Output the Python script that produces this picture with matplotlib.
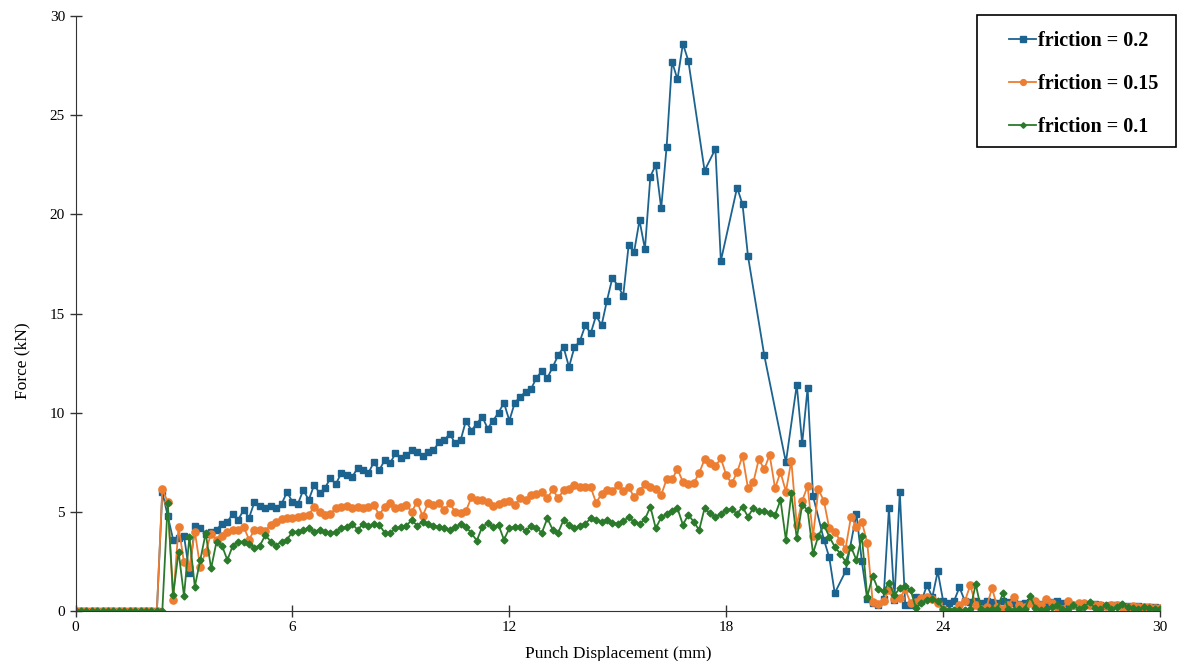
import numpy as np
import matplotlib
matplotlib.use("Agg")
import matplotlib.pyplot as plt
from matplotlib.patches import Rectangle

plt.rcParams['font.family'] = ['Liberation Serif', 'DejaVu Serif']

# sample grid of the simulation output (mm)
x_mm = np.round(np.arange(201) * 0.15, 2)

# force (kN); None = no sample stored at that step
f_02 = [0]*16 + [
    6.0, 4.8, 3.6, 3.7, 3.8, 1.9, 4.3, 4.2, 3.9, 4.0,
    4.1, 4.4, 4.5, 4.9, 4.6, 5.1, 4.7, 5.5, 5.3, 5.2,
    5.3, 5.2, 5.4, 6.0, 5.5, 5.4, 6.1, 5.6, 6.35, 5.95,
    6.2, 6.7, 6.4, 6.95, 6.85, 6.75, 7.2, 7.1, 6.95, 7.5,
    7.1, 7.6, 7.45, 7.95, 7.7, 7.85, 8.1, 8.0, 7.8, 8.0,
    8.1, 8.5, 8.6, 8.95, 8.45, 8.6, 9.6, 9.1, 9.45, 9.8,
    9.2, 9.6, 10.0, 10.5, 9.6, 10.5, 10.8, 11.05, 11.2, 11.75,
    12.1, 11.75, 12.3, 12.9, 13.3, 12.3, 13.3, 13.6, 14.4, 14.0,
    14.9, 14.4, 15.65, 16.8, 16.4, 15.9, 18.45, 18.1, 19.7, 18.25,
    21.9, 22.5, 20.3, 23.4, 27.7, 26.8, 28.6, 27.75, None, None,
    22.2, None, 23.3, 17.65, None, None, 21.35, 20.5, 17.9, None,
    None, 12.9, None, None, None, 7.5, None, 11.4, 8.45, 11.25,
    5.8, None, 3.6, 2.7, 0.9, None, 2.0, None, 4.9, 2.5,
    0.6, 0.4, 0.3, 0.6, 5.2, 0.55, 6.0, 0.3, 0.3, 0.7,
    0.5, 1.3, 0.7, 2.0, 0.5, 0.4, 0.5, 1.2, 0.5, 0.45,
    0.5, 0.4, 0.5, 0.45, 0.4, 0.5, 0.45, 0.4, 0.35, 0.4,
    0.45, 0.4, 0.35, 0.4, 0.45, 0.5, 0.4, 0.35, 0.3, 0.35,
    0.3, 0.3, 0.35, 0.3, 0.25, 0.3, 0.3, 0.25, 0.25, 0.2,
    0.25, 0.2, 0.2, 0.2, 0.15]

f_015 = [0]*16 + [
    6.15, 5.5, 0.55, 4.25, 2.45, 2.2, 4.0, 2.2, 3.0, 3.9,
    3.6, 3.8, 4.0, 4.1, 4.1, 4.25, 3.6, 4.1, 4.1, 4.05,
    4.35, 4.5, 4.65, 4.7, 4.7, 4.75, 4.8, 4.85, 5.26, 5.0,
    4.84, 4.9, 5.18, 5.26, 5.3, 5.18, 5.26, 5.18, 5.26, 5.35,
    4.84, 5.26, 5.43, 5.2, 5.25, 5.35, 5.0, 5.51, 4.79, 5.43,
    5.35, 5.43, 5.09, 5.43, 5.0, 4.95, 5.05, 5.73, 5.6, 5.58,
    5.51, 5.3, 5.4, 5.51, 5.55, 5.35, 5.68, 5.6, 5.85, 5.9,
    6.02, 5.68, 6.13, 5.68, 6.1, 6.13, 6.35, 6.24, 6.24, 6.24,
    5.46, 5.9, 6.1, 6.05, 6.35, 6.07, 6.27, 5.73, 6.07, 6.4,
    6.27, 6.13, 5.85, 6.64, 6.64, 7.15, 6.52, 6.4, 6.45, 6.95,
    7.65, 7.48, 7.3, 7.7, 6.85, 6.43, 7.0, 7.82, 6.2, 6.5,
    7.65, 7.15, 7.87, 6.19, 7.0, 6.02, 7.58, 4.34, 5.56, 6.3,
    3.78, 6.13, 5.55, 4.17, 4.0, 3.55, 3.15, 4.75, 4.24, 4.5,
    3.44, 0.47, 0.35, 0.5, 1.05, 0.6, 0.65, 1.1, 0.4, 0.45,
    0.65, 0.7, 0.6, 0.4, 0.1, 0.0, 0.0, 0.3, 0.5, 1.3,
    0.3, 0.1, 0.2, 1.15, 0.2, 0.1, 0.3, 0.7, 0.3, 0.2,
    0.4, 0.5, 0.3, 0.6, 0.4, 0.2, 0.1, 0.5, 0.3, 0.4,
    0.4, 0.3, 0.3, 0.3, 0.25, 0.3, 0.3, 0.2, 0.2, 0.25,
    0.2, 0.2, 0.2, 0.15, 0.15]

f_01 = [0]*17 + [
    5.43, 0.8, 3.0, 0.76, 3.75, 1.23, 2.57, 3.92, 2.15, 3.5,
    3.3, 2.57, 3.3, 3.5, 3.5, 3.4, 3.2, 3.3, 3.83, 3.5,
    3.3, 3.5, 3.6, 4.0, 4.0, 4.09, 4.2, 4.0, 4.1, 4.0,
    3.92, 4.0, 4.2, 4.25, 4.4, 4.1, 4.37, 4.3, 4.37, 4.35,
    3.95, 3.92, 4.17, 4.25, 4.3, 4.59, 4.3, 4.5, 4.37, 4.3,
    4.25, 4.17, 4.09, 4.25, 4.37, 4.25, 3.92, 3.55, 4.25, 4.42,
    4.25, 4.34, 3.6, 4.17, 4.25, 4.25, 4.05, 4.3, 4.17, 3.95,
    4.67, 4.1, 3.95, 4.6, 4.35, 4.17, 4.3, 4.4, 4.67, 4.6,
    4.5, 4.6, 4.45, 4.4, 4.55, 4.72, 4.5, 4.4, 4.62, 5.26,
    4.17, 4.72, 4.9, 5.06, 5.18, 4.35, 4.85, 4.5, 4.08, 5.18,
    4.93, 4.75, 4.9, 5.1, 5.14, 4.9, 5.26, 4.75, 5.2, 5.05,
    5.05, 4.93, 4.84, 5.6, 3.58, 5.93, 3.66, 5.35, 5.1, 2.91,
    3.8, 4.34, 3.75, 3.24, 2.9, 2.49, 3.24, 2.57, 3.78, 0.72,
    1.77, 1.1, 1.0, 1.43, 0.8, 1.15, 1.28, 1.05, 0.14, 0.4,
    0.57, 0.6, 0.5, 0.1, 0.05, 0.05, 0.05, 0.05, 0.1, 1.35,
    0.1, 0.05, 0.1, 0.1, 0.9, 0.1, 0.05, 0.1, 0.1, 0.75,
    0.15, 0.05, 0.1, 0.2, 0.3, 0.1, 0.1, 0.3, 0.1, 0.2,
    0.45, 0.15, 0.1, 0.3, 0.1, 0.2, 0.35, 0.2, 0.15, 0.1,
    0.2, 0.15, 0.1, 0.1]

labels = ['friction = 0.2', 'friction = 0.15', 'friction = 0.1']
colors = ['#1c6390', '#ed7d31', '#2b7a2b']
markers = ['s', 'o', 'D']
msizes = [5, 5.2, 3.5]

fig = plt.figure(figsize=(11.84, 6.61), dpi=100)
ax = fig.add_axes([0.0638, 0.0756, 0.916, 0.9002])

for f, lab, c, m, ms in zip([f_02, f_015, f_01], labels, colors, markers, msizes):
    y = np.array([np.nan if v is None else v for v in f], dtype=float)
    ok = ~np.isnan(y)
    ax.plot(x_mm[ok], y[ok], color=c, marker=m, markersize=ms, linewidth=1.3, label=lab)

ax.set_xlim(0, 30)
ax.set_ylim(0, 30)
ax.set_xticks([0, 6, 12, 18, 24, 30])
ax.set_yticks([0, 5, 10, 15, 20, 25, 30])
ax.tick_params(direction='inout', length=8, width=1, labelsize=11, color='#333333')
for s in ['top', 'right']:
    ax.spines[s].set_visible(False)
for s in ['left', 'bottom']:
    ax.spines[s].set_color('#333333')
ax.set_xlabel('Punch Displacement (mm)', fontsize=12.5, labelpad=8)
ax.set_ylabel('Force (kN)', fontsize=12.5)
ax.yaxis.set_label_coords(-0.042, 0.42)

# legend box drawn separately so the padding matches
fig.patches.append(Rectangle((977/1184, 1 - 147/661), 199/1184, 132/661,
                             transform=fig.transFigure, fill=False,
                             edgecolor='black', linewidth=1.2))
leg = ax.legend(loc='upper left', bbox_to_anchor=(1009/1184, 1 - 31/661),
                bbox_transform=fig.transFigure, borderaxespad=0, borderpad=0,
                frameon=False, prop={'weight': 'bold', 'size': 14.5},
                labelspacing=1.15, handlelength=1.35, handletextpad=0.1,
                markerscale=0.8)

fig.savefig('out.png', dpi=100)
